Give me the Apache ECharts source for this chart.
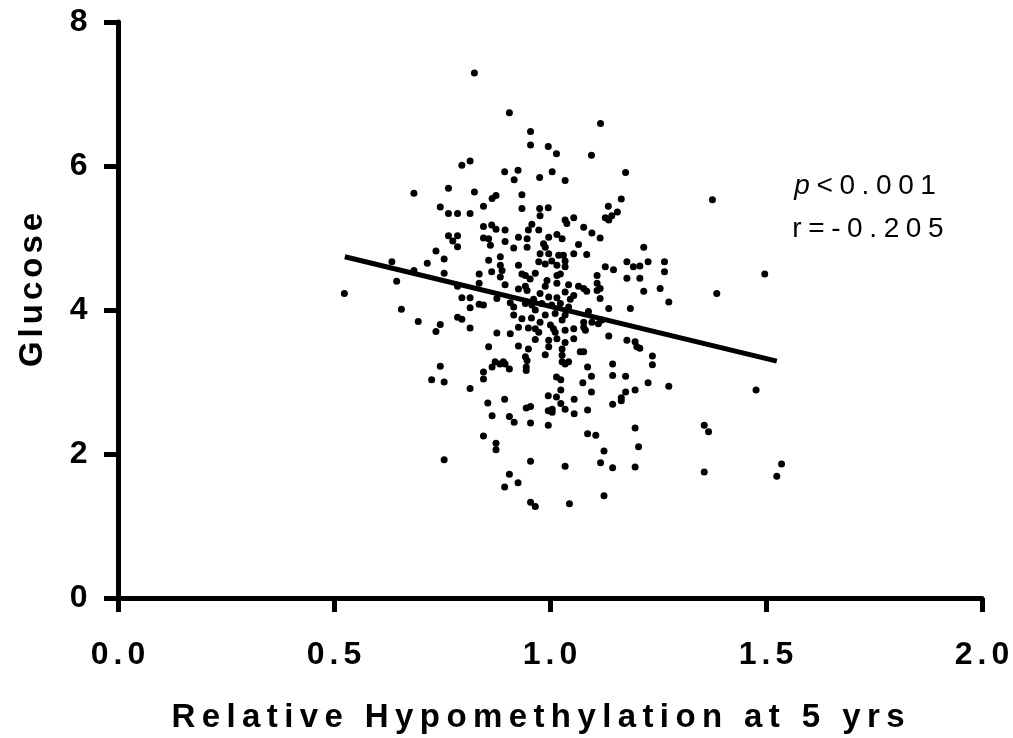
<!DOCTYPE html>
<html><head><meta charset="utf-8">
<script src="https://cdn.jsdelivr.net/npm/echarts@6/dist/echarts.min.js"></script>
<style>html,body{margin:0;padding:0;background:#fff}#c{width:1013px;height:738px}</style>
</head><body><div id="c"></div>
<script>
const xTitle = 'Relative Hypomethylation at 5 yrs';
const yTitle = 'Glucose';
const statP = 'p';
const statPValue = '<0.001';
const statR = 'r=-0.205';
const xRange = [0, 2, 0.5];
const yRange = [0, 8, 2];
const fitX = [0.525, 1.525];
const fitY = [4.74, 3.29];
const points = [
[0.825,7.29],[0.796,6.01],[0.815,6.07],[0.685,5.62],[0.765,5.69],[0.825,5.64],[0.746,5.43],[0.846,5.44],
[0.765,5.34],[0.786,5.34],[0.815,5.34],
[0.906,6.74],[1.117,6.59],[0.955,6.48],[0.955,6.29],[0.996,6.27],[1.015,6.17],[1.096,6.15],[0.895,5.92],[0.926,5.94],[0.917,5.81],[0.976,5.84],[1.005,5.92],[1.035,5.80],[1.175,5.91],[0.866,5.55],[0.875,5.59],[0.935,5.60],[0.935,5.41],[0.976,5.41],[0.996,5.42],[1.135,5.44],[1.165,5.54],[1.156,5.36],
[1.376,5.53],
[0.846,5.16],[0.765,5.03],[0.786,5.03],[0.775,4.96],[0.786,4.88],[0.846,5.00],[0.736,4.82],[0.755,4.71],[0.634,4.67],[0.716,4.65],[0.685,4.55],[0.755,4.51],[0.645,4.40],[0.836,4.50],[0.836,4.37],[0.786,4.33],[0.524,4.23],[0.796,4.17],[0.815,4.17],[0.836,4.08],[0.846,4.07],[0.815,4.03],[0.656,4.01],[0.695,3.84],[0.786,3.90],[0.796,3.87],[0.746,3.80],[0.736,3.70],[0.815,3.75],
[0.746,3.22],[0.726,3.03],[0.755,3.00],[0.815,2.91],[0.846,3.14],[0.846,3.04],[0.846,2.25],[0.755,1.92],
[0.866,3.21],[0.884,3.25],[0.896,3.25],[0.906,3.18],[0.945,3.21],[0.945,3.16],[1.035,3.25],[1.087,3.21],[1.145,3.25],[1.015,3.07],[1.025,3.03],[1.076,2.99],[1.096,3.08],[1.145,3.09],[1.175,3.08],[1.096,2.86],[1.025,2.89],[1.197,2.89],[1.175,2.86],[1.165,2.78],[1.165,2.74],[1.145,2.69],[0.895,2.76],[0.856,2.71],[0.996,2.81],[1.015,2.79],[1.056,2.76],[1.025,2.70],[0.945,2.64],[0.955,2.66],[0.996,2.60],[1.005,2.62],[1.005,2.58],[1.035,2.62],[1.087,2.61],[1.056,2.56],[0.866,2.53],[0.906,2.52],[0.917,2.44],[0.955,2.43],[0.996,2.40],[1.087,2.28],[1.106,2.26],[1.197,2.36],[0.875,2.15],[0.875,2.06],[0.955,1.90],[1.035,1.83],[1.125,2.04],[1.117,1.88],[1.145,1.81],[1.197,1.82],[1.205,2.10],[0.906,1.72],[0.926,1.60],[0.895,1.54],[0.955,1.33],[0.966,1.27],[1.045,1.31],[1.125,1.42],
[1.237,3.24],[1.227,2.99],[1.275,2.94],[1.477,2.89],[1.357,2.40],[1.367,2.31],[1.357,1.75],[1.536,1.86],[1.525,1.69],
[1.217,4.87],[1.227,4.67],[1.265,4.67],[1.208,4.61],[1.265,4.53],[1.208,4.44],[1.497,4.50],[1.217,4.26],[1.255,4.30],[1.386,4.23],[1.275,4.11],[1.208,3.47],[1.237,3.36],
[0.977,5.31],[1.035,5.25],[1.055,5.28],[1.128,5.28],[1.143,5.31],[0.865,5.18],[0.875,5.12],[0.896,5.11],[0.958,5.19],[0.950,5.11],[0.974,5.11],[1.039,5.20],[1.078,5.15],[1.097,5.07],[1.116,5.00],[1.136,5.25],[0.997,5.01],[1.016,5.05],[1.028,4.99],[0.858,4.99],[0.862,4.90],[0.896,4.95],[0.927,5.01],[0.947,4.99],[0.916,4.86],[0.947,4.87],[0.985,4.92],[0.989,4.87],[1.066,4.91],[1.085,4.77],[1.055,4.78],[0.977,4.78],[0.997,4.78],[1.020,4.76],[1.031,4.76],[0.974,4.67],[0.989,4.64],[1.004,4.68],[1.016,4.62],[1.035,4.68],[1.035,4.60],[0.885,4.74],[0.858,4.69],[0.885,4.62],[0.865,4.53],[0.889,4.55],[0.885,4.46],[0.927,4.62],[1.128,4.60],[1.147,4.56],[1.178,4.67],[1.193,4.60],
[0.935,4.50],[0.943,4.48],[0.954,4.43],[0.966,4.51],[1.016,4.48],[1.024,4.50],[0.993,4.41],[1.109,4.48],[1.178,4.44],[0.896,4.35],[0.943,4.33],[0.989,4.33],[1.016,4.37],[1.043,4.35],[1.066,4.33],[1.078,4.30],[1.085,4.26],[1.109,4.37],[1.109,4.27],[1.116,4.30],[1.116,4.16],[0.927,4.29],[0.947,4.27],[1.035,4.25],[1.055,4.20],[1.047,4.15],[0.977,4.23],[0.962,4.15],[0.997,4.18],[1.016,4.17],[0.877,4.16],[0.908,4.10],[0.916,4.04],[0.943,4.09],[0.958,4.07],[0.966,4.00],[0.981,4.09],[1.004,4.07],[1.024,4.09],[1.043,4.04],[1.089,3.98],[1.136,4.02],[1.186,4.02],
[0.916,3.93],[0.935,3.88],[0.957,3.89],[0.977,3.83],[0.989,3.93],[1.012,3.95],[1.035,3.93],[1.028,3.86],[1.078,3.83],[1.097,3.83],[1.112,3.81],[1.120,3.86],[0.877,3.68],[0.908,3.67],[0.927,3.76],[0.950,3.75],[0.966,3.74],[1.001,3.79],[1.008,3.74],[1.012,3.69],[0.974,3.69],[1.035,3.72],[1.055,3.74],[1.078,3.76],[1.082,3.72],[1.136,3.64],[1.178,3.58],[1.197,3.56],[0.966,3.59],[0.997,3.58],[1.016,3.60],[1.035,3.55],[1.055,3.60],[0.858,3.49],[0.927,3.50],[0.950,3.46],[0.997,3.49],[1.028,3.46],[1.070,3.42],[1.078,3.42],[1.201,3.49],[0.989,3.38],[0.943,3.35],[0.947,3.30],[1.028,3.37],[1.028,3.28],[1.043,3.28],[0.873,3.28],[0.892,3.28]
];

const FONT = '"Liberation Sans", Arial, sans-serif';
function spaced(s, st) { return s.split('').map(c => '{' + st + '|' + c + '}').join(''); }
const tickStyle = { fontFamily: FONT, fontWeight: 'bold', fontSize: 32, color: '#000', padding: [0, 2.5, 0, 2.5] };
const titleStyle = { fontFamily: FONT, fontWeight: 'bold', fontSize: 33, color: '#000', padding: [0, 3.2, 0, 3.2] };
const yTitleStyle = { fontFamily: FONT, fontWeight: 'bold', fontSize: 33, color: '#000', padding: [0, 2, 0, 2] };
const statStyle = { fontFamily: FONT, fontSize: 28, color: '#000', padding: [0, 3.3, 0, 3.3] };

const chart = echarts.init(document.getElementById('c'));
chart.setOption({
  animation: false,
  backgroundColor: '#fff',
  grid: { left: 118, right: 31, top: 22, bottom: 140, containLabel: false },
  xAxis: {
    type: 'value', min: xRange[0], max: xRange[1], interval: xRange[2],
    splitLine: { show: false },
    axisLine: { lineStyle: { color: '#000', width: 5 } },
    axisTick: { show: true, length: 14, lineStyle: { color: '#000', width: 5 } },
    axisLabel: { margin: 41, fontFamily: FONT, fontWeight: 'bold', fontSize: 32, color: '#000',
      formatter: v => spaced(v.toFixed(1), 't'), rich: { t: tickStyle } }
  },
  yAxis: {
    type: 'value', min: yRange[0], max: yRange[1], interval: yRange[2],
    splitLine: { show: false },
    axisLine: { show: true, lineStyle: { color: '#000', width: 5 } },
    axisTick: { show: true, length: 14, lineStyle: { color: '#000', width: 5 } },
    axisLabel: { margin: 28, fontFamily: FONT, fontWeight: 'bold', fontSize: 32, color: '#000',
      formatter: v => spaced(String(v), 't'), rich: { t: tickStyle } }
  },
  graphic: [
    { type: 'text', x: 538, y: 718, style: { text: spaced(xTitle, 'h'), align: 'center', verticalAlign: 'middle',
      fontFamily: FONT, fontWeight: 'bold', fontSize: 33, fill: '#000', rich: { h: titleStyle } } },
    { type: 'text', x: 33, y: 290, rotation: Math.PI / 2, style: { text: spaced(yTitle, 'h'), align: 'center', verticalAlign: 'middle',
      fontFamily: FONT, fontWeight: 'bold', fontSize: 33, fill: '#000', rich: { h: yTitleStyle } } },
    { type: 'text', x: 791, y: 186, style: { text: '{pi|' + statP + '}' + spaced(statPValue, 'a'), align: 'left', verticalAlign: 'middle',
      fontFamily: FONT, fontSize: 28, fill: '#000',
      rich: { pi: Object.assign({}, statStyle, { fontStyle: 'italic' }), a: statStyle } } },
    { type: 'text', x: 789, y: 229, style: { text: spaced(statR, 'a'), align: 'left', verticalAlign: 'middle',
      fontFamily: FONT, fontSize: 28, fill: '#000', rich: { a: statStyle } } }
  ],
  series: [
    { type: 'scatter', data: points, symbolSize: 7, itemStyle: { color: '#000', opacity: 1 }, emphasis: { disabled: true } },
    { type: 'line', data: fitX.map((x, i) => [x, fitY[i]]), symbol: 'none', lineStyle: { color: '#000', width: 5 }, emphasis: { disabled: true } }
  ]
});
</script></body></html>
